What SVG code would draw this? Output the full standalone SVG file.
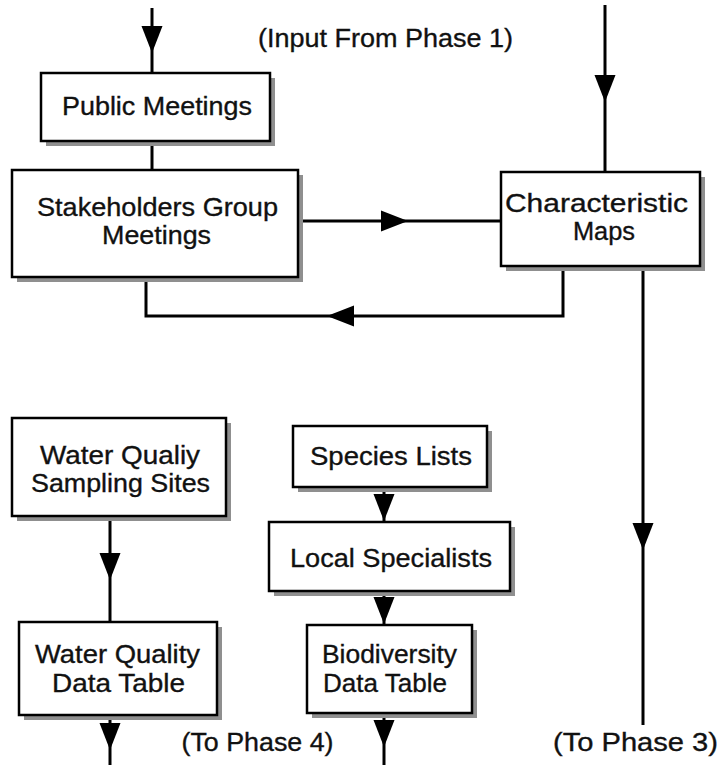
<svg xmlns="http://www.w3.org/2000/svg" xmlns:xlink="http://www.w3.org/1999/xlink" width="719" height="765" viewBox="0 0 719 765">
  <style>
    .box { fill: #ffffff; stroke: #000000; stroke-width: 2.5; }
    .shadow { fill: #8f8f8f; }
    .line { fill: none; stroke: #000000; stroke-width: 3; }
    .label { font-family: "Liberation Sans", Arial, sans-serif; font-size: 26px; fill: #111111; stroke: #111111; stroke-width: 0.35; text-anchor: middle; }
  </style>
  <defs>
    <!-- arrowhead pointing down, tip at origin -->
    <path id="ah" d="M0,0 L-10.5,-27 L10.5,-27 Z" fill="#000000"/>
  </defs>
  <rect width="719" height="765" fill="#ffffff"/>

  <g id="connectors">
    <!-- input into Public Meetings -->
    <line class="line" x1="152" y1="8" x2="152" y2="73"/>
    <use xlink:href="#ah" transform="translate(152,53)"/>
    <!-- Public Meetings to Stakeholders -->
    <line class="line" x1="152" y1="141" x2="152" y2="170"/>
    <!-- Stakeholders to Characteristic Maps -->
    <line class="line" x1="298" y1="221" x2="501" y2="221"/>
    <use xlink:href="#ah" transform="translate(408,221) rotate(-90)"/>
    <!-- input into Characteristic Maps -->
    <line class="line" x1="605" y1="5" x2="605" y2="172"/>
    <use xlink:href="#ah" transform="translate(605,102)"/>
    <!-- feedback loop back to Stakeholders -->
    <polyline class="line" points="563,266 563,316 146,316 146,277"/>
    <use xlink:href="#ah" transform="translate(327,316) rotate(90)"/>
    <!-- Characteristic Maps to Phase 3 -->
    <line class="line" x1="643" y1="266" x2="643" y2="725"/>
    <use xlink:href="#ah" transform="translate(643,550)"/>
    <!-- water quality chain -->
    <line class="line" x1="110" y1="516" x2="110" y2="622"/>
    <use xlink:href="#ah" transform="translate(110,580)"/>
    <line class="line" x1="110" y1="715" x2="110" y2="765"/>
    <use xlink:href="#ah" transform="translate(110,750)"/>
    <!-- biodiversity chain -->
    <line class="line" x1="384" y1="487" x2="384" y2="522"/>
    <use xlink:href="#ah" transform="translate(384,521)"/>
    <line class="line" x1="384" y1="591" x2="384" y2="625"/>
    <use xlink:href="#ah" transform="translate(384,624)"/>
    <line class="line" x1="384" y1="713" x2="384" y2="765"/>
    <use xlink:href="#ah" transform="translate(384,747)"/>
  </g>

  <text class="label" x="385.5" y="47" textLength="255" lengthAdjust="spacingAndGlyphs">(Input From Phase 1)</text>
  <text class="label" x="257.5" y="751" textLength="152" lengthAdjust="spacingAndGlyphs">(To Phase 4)</text>
  <text class="label" x="635.5" y="751" textLength="165" lengthAdjust="spacingAndGlyphs">(To Phase 3)</text>

  <g id="public-meetings">
    <rect class="shadow" x="46" y="78" width="229" height="68"/>
    <rect class="box" x="41" y="73" width="229" height="68"/>
    <text class="label" x="157" y="115" textLength="190" lengthAdjust="spacingAndGlyphs">Public Meetings</text>
  </g>

  <g id="stakeholders">
    <rect class="shadow" x="17" y="175" width="286" height="107"/>
    <rect class="box" x="12" y="170" width="286" height="107"/>
    <text class="label" x="157.5" y="216" textLength="241" lengthAdjust="spacingAndGlyphs">Stakeholders Group</text>
    <text class="label" x="156.5" y="244" textLength="109" lengthAdjust="spacingAndGlyphs">Meetings</text>
  </g>

  <g id="characteristic-maps">
    <rect class="shadow" x="506" y="177" width="199" height="94"/>
    <rect class="box" x="501" y="172" width="199" height="94"/>
    <text class="label" x="596.5" y="212" textLength="183" lengthAdjust="spacingAndGlyphs">Characteristic</text>
    <text class="label" x="604" y="240" textLength="62" lengthAdjust="spacingAndGlyphs">Maps</text>
  </g>

  <g id="water-sampling-sites">
    <rect class="shadow" x="17" y="423" width="214" height="98"/>
    <rect class="box" x="12" y="418" width="214" height="98"/>
    <text class="label" x="120" y="464" textLength="160" lengthAdjust="spacingAndGlyphs">Water Qualiy</text>
    <text class="label" x="120.5" y="492" textLength="179" lengthAdjust="spacingAndGlyphs">Sampling Sites</text>
  </g>

  <g id="water-quality-table">
    <rect class="shadow" x="24" y="627" width="198" height="93"/>
    <rect class="box" x="19" y="622" width="198" height="93"/>
    <text class="label" x="117.5" y="663" textLength="165" lengthAdjust="spacingAndGlyphs">Water Quality</text>
    <text class="label" x="118.5" y="692" textLength="133" lengthAdjust="spacingAndGlyphs">Data Table</text>
  </g>

  <g id="species-lists">
    <rect class="shadow" x="298" y="431" width="194" height="61"/>
    <rect class="box" x="293" y="426" width="194" height="61"/>
    <text class="label" x="391" y="465" textLength="162" lengthAdjust="spacingAndGlyphs">Species Lists</text>
  </g>

  <g id="local-specialists">
    <rect class="shadow" x="274" y="527" width="241" height="69"/>
    <rect class="box" x="269" y="522" width="241" height="69"/>
    <text class="label" x="391" y="567" textLength="202" lengthAdjust="spacingAndGlyphs">Local Specialists</text>
  </g>

  <g id="biodiversity-table">
    <rect class="shadow" x="312" y="630" width="165" height="88"/>
    <rect class="box" x="307" y="625" width="165" height="88"/>
    <text class="label" x="389.5" y="663" textLength="135" lengthAdjust="spacingAndGlyphs">Biodiversity</text>
    <text class="label" x="385" y="692" textLength="124" lengthAdjust="spacingAndGlyphs">Data Table</text>
  </g>
</svg>
